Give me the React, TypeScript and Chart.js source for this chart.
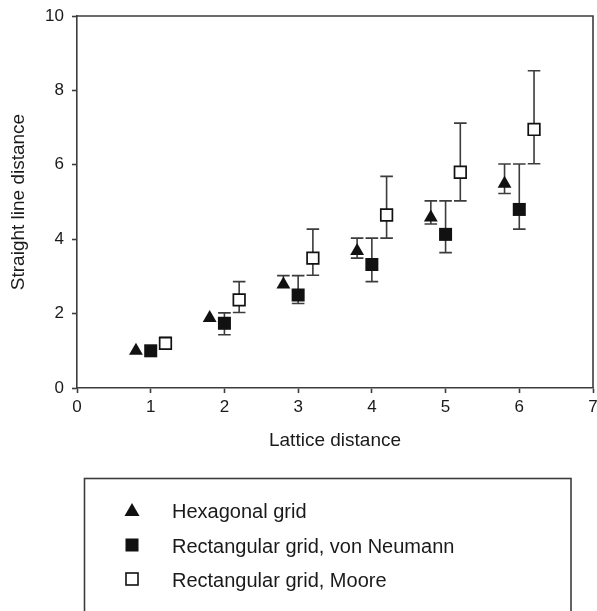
import { useEffect, useRef } from 'react';
import { Chart, registerables } from 'chart.js';

Chart.register(...registerables);

const FONT = "'Liberation Sans', Arial, Helvetica, sans-serif";
const INK = '#1a1a1a';
const LINE = '#3c3c3c';

// Hexagonal grid
const hexX = [0.8, 1.8, 2.8, 3.8, 4.8, 5.8];
const hexY = [1.0, 1.88, 2.78, 3.68, 4.58, 5.49];
const hexLow = [null, null, null, 3.49, 4.41, 5.23];
const hexHigh = [null, null, 3.02, 4.03, 5.03, 6.02];

// Rectangular grid, von Neumann
const vnX = [1, 2, 3, 4, 5, 6];
const vnY = [1.0, 1.74, 2.5, 3.32, 4.13, 4.8];
const vnLow = [null, 1.43, 2.27, 2.86, 3.64, 4.27];
const vnHigh = [null, 2.02, 3.02, 4.03, 5.03, 6.02];

// Rectangular grid, Moore
const mooreX = [1.2, 2.2, 3.2, 4.2, 5.2, 6.2];
const mooreY = [1.2, 2.37, 3.49, 4.65, 5.8, 6.95];
const mooreLow = [1.04, 2.03, 3.03, 4.03, 5.03, 6.03];
const mooreHigh = [1.36, 2.86, 4.27, 5.69, 7.12, 8.53];

const seriesLabels = ['Hexagonal grid', 'Rectangular grid, von Neumann', 'Rectangular grid, Moore'];
const xTitle = 'Lattice distance';
const yTitle = 'Straight line distance';

const toPoints = (xs: number[], ys: number[]) => xs.map((x, i) => ({ x, y: ys[i] }));

const errorBarPlugin = {
  id: 'errorBars',
  beforeDatasetsDraw(chart: any) {
    const ctx = chart.ctx;
    const yScale = chart.scales.y;
    ctx.save();
    ctx.strokeStyle = LINE;
    ctx.lineWidth = 1.6;
    chart.data.datasets.forEach((ds: any, i: number) => {
      const meta = chart.getDatasetMeta(i);
      meta.data.forEach((pt: any, j: number) => {
        const lo = ds.errLow ? ds.errLow[j] : null;
        const hi = ds.errHigh ? ds.errHigh[j] : null;
        const x = pt.x;
        const yc = pt.y;
        const cap = 6.3;
        if (hi != null) {
          const yh = yScale.getPixelForValue(hi);
          ctx.beginPath();
          ctx.moveTo(x, yc);
          ctx.lineTo(x, yh);
          ctx.moveTo(x - cap, yh);
          ctx.lineTo(x + cap, yh);
          ctx.stroke();
        }
        if (lo != null) {
          const yl = yScale.getPixelForValue(lo);
          ctx.beginPath();
          ctx.moveTo(x, yc);
          ctx.lineTo(x, yl);
          ctx.moveTo(x - cap, yl);
          ctx.lineTo(x + cap, yl);
          ctx.stroke();
        }
      });
    });
    ctx.restore();
  },
};

const framePlugin = {
  id: 'frame',
  afterDatasetsDraw(chart: any) {
    const { ctx, chartArea } = chart;
    ctx.save();
    ctx.strokeStyle = LINE;
    ctx.lineWidth = 1.6;
    ctx.beginPath();
    ctx.moveTo(chartArea.left, chartArea.top);
    ctx.lineTo(chartArea.right, chartArea.top);
    ctx.lineTo(chartArea.right, chartArea.bottom);
    ctx.stroke();
    ctx.restore();
  },
};

const legendPlugin = {
  id: 'boxLegend',
  afterDraw(chart: any) {
    const ctx = chart.ctx;
    ctx.save();
    ctx.strokeStyle = LINE;
    ctx.lineWidth = 1.6;
    ctx.strokeRect(84.5, 478.5, 486.5, 160);
    const mx = 132;
    const rows = [510, 545, 579];
    // triangle
    ctx.fillStyle = '#111';
    ctx.beginPath();
    ctx.moveTo(mx, rows[0] - 7);
    ctx.lineTo(mx + 7.5, rows[0] + 6);
    ctx.lineTo(mx - 7.5, rows[0] + 6);
    ctx.closePath();
    ctx.fill();
    // filled square
    ctx.fillRect(mx - 6.5, rows[1] - 6.5, 13, 13);
    // open square
    ctx.fillStyle = '#fff';
    ctx.fillRect(mx - 6, rows[2] - 6, 12, 12);
    ctx.strokeStyle = '#111';
    ctx.lineWidth = 1.6;
    ctx.strokeRect(mx - 6, rows[2] - 6, 12, 12);
    ctx.fillStyle = INK;
    ctx.font = `20px ${FONT}`;
    ctx.textAlign = 'left';
    ctx.textBaseline = 'alphabetic';
    seriesLabels.forEach((t, i) => {
      ctx.fillText(t, 172, rows[i] + 7.5);
    });
    ctx.restore();
  },
};

export default function App() {
  const ref = useRef<HTMLCanvasElement | null>(null);

  useEffect(() => {
    if (!ref.current) return;
    const chart = new Chart(ref.current, {
      type: 'scatter',
      data: {
        datasets: [
          {
            label: seriesLabels[0],
            data: toPoints(hexX, hexY),
            pointStyle: 'triangle',
            pointRadius: 8,
            pointHoverRadius: 8,
            backgroundColor: '#111',
            borderColor: '#111',
            borderWidth: 0,
            errLow: hexLow,
            errHigh: hexHigh,
          } as any,
          {
            label: seriesLabels[1],
            data: toPoints(vnX, vnY),
            pointStyle: 'rect',
            pointRadius: 9.2,
            pointHoverRadius: 9.2,
            backgroundColor: '#111',
            borderColor: '#111',
            borderWidth: 0,
            errLow: vnLow,
            errHigh: vnHigh,
          } as any,
          {
            label: seriesLabels[2],
            data: toPoints(mooreX, mooreY),
            pointStyle: 'rect',
            pointRadius: 8.2,
            pointHoverRadius: 8.2,
            backgroundColor: '#fff',
            borderColor: '#111',
            borderWidth: 1.7,
            errLow: mooreLow,
            errHigh: mooreHigh,
          } as any,
        ],
      },
      options: {
        responsive: false,
        animation: false,
        devicePixelRatio: 1,
        layout: { autoPadding: false, padding: { top: 16, right: 4, left: 0, bottom: 153 } },
        plugins: {
          legend: { display: false },
          tooltip: { enabled: false },
        },
        scales: {
          x: {
            type: 'linear',
            min: 0,
            max: 7,
            afterFit: (s: any) => {
              s.height = 70;
              s.paddingLeft = 0;
              s.paddingRight = 0;
            },
            ticks: {
              stepSize: 1,
              padding: 4,
              color: INK,
              font: { family: FONT, size: 17 },
            },
            grid: {
              drawOnChartArea: false,
              drawTicks: true,
              tickLength: 5,
              tickWidth: 1.6,
              tickColor: LINE,
            },
            border: { display: true, color: LINE, width: 1.6 },
            title: {
              display: true,
              text: xTitle,
              color: INK,
              font: { family: FONT, size: 19 },
              padding: { top: 0, bottom: 6 },
            },
          },
          y: {
            type: 'linear',
            min: 0,
            max: 10,
            afterFit: (s: any) => {
              s.width = 77;
              s.paddingTop = 0;
              s.paddingBottom = 0;
            },
            ticks: {
              stepSize: 2,
              padding: 8,
              color: INK,
              font: { family: FONT, size: 17 },
            },
            grid: {
              drawOnChartArea: false,
              drawTicks: true,
              tickLength: 5,
              tickWidth: 1.6,
              tickColor: LINE,
            },
            border: { display: true, color: LINE, width: 1.6 },
            title: {
              display: true,
              text: yTitle,
              color: INK,
              font: { family: FONT, size: 19 },
              padding: { top: 7, bottom: 0 },
            },
          },
        },
      },
      plugins: [errorBarPlugin, framePlugin, legendPlugin],
    });
    return () => chart.destroy();
  }, []);

  return (
    <div style={{ position: 'absolute', left: 0, top: 0, width: 597, height: 611, background: '#fff' }}>
      <canvas ref={ref} width={597} height={611} style={{ display: 'block' }} />
    </div>
  );
}
